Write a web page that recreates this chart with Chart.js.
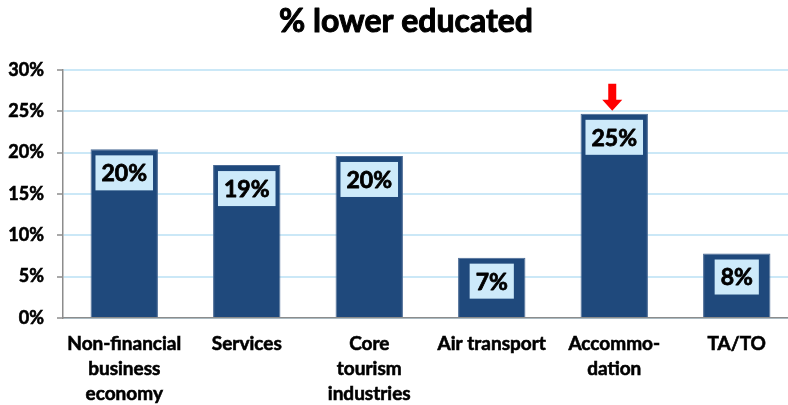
<!DOCTYPE html>
<html>
<head>
<meta charset="utf-8">
<script src="https://cdn.jsdelivr.net/npm/chart.js@4/dist/chart.umd.min.js"></script>
<style>
  html, body { margin: 0; padding: 0; background: #fff; overflow: hidden; }
  #wrap { position: relative; width: 800px; height: 405px; }
</style>
</head>
<body>
<div id="wrap"><canvas id="chart"></canvas></div>
<script>
// Share of lower educated workers by sector
const categories = [
  ['Non-financial', 'business', 'economy'],
  ['Services'],
  ['Core', 'tourism', 'industries'],
  ['Air transport'],
  ['Accommo-', 'dation'],
  ['TA/TO']
];
const lowerEducated = [20.4, 18.5, 19.6, 7.3, 24.7, 7.8];
const yTicks = [0, 5, 10, 15, 20, 25, 30];
const highlighted = 4; // Accommodation gets the red arrow
const chartTitle = '% lower educated';

const FONT = 'Lato, "DejaVu Sans", sans-serif';

// Draws bold text with a thin outline so it reads heavier
function heavyText(ctx, txt, x, y, stroke) {
  ctx.lineWidth = stroke;
  ctx.lineJoin = 'round';
  ctx.strokeStyle = '#000';
  ctx.strokeText(txt, x, y);
  ctx.fillText(txt, x, y);
}

// Light-blue value boxes inside the top of each bar
const valueBoxes = {
  id: 'valueBoxes',
  afterDatasetsDraw(chart) {
    const ctx = chart.ctx;
    const meta = chart.getDatasetMeta(0);
    ctx.save();
    ctx.font = 'bold 23px ' + FONT;
    ctx.textAlign = 'center';
    ctx.textBaseline = 'middle';
    meta.data.forEach((bar, i) => {
      const txt = Math.round(lowerEducated[i]) + '%';
      const w = ctx.measureText(txt).width + 12;
      const h = 35;
      const top = bar.y + 6;
      ctx.fillStyle = '#cdeafa';
      ctx.fillRect(bar.x - w / 2, top, w, h);
      ctx.fillStyle = '#000';
      heavyText(ctx, txt, bar.x, top + h / 2 + 1, 0.8);
    });
    ctx.restore();
  }
};

// Red down arrow above the highlighted bar
const pointerArrow = {
  id: 'pointerArrow',
  afterDatasetsDraw(chart) {
    const ctx = chart.ctx;
    const bar = chart.getDatasetMeta(0).data[highlighted];
    const x = bar.x - 2;
    const tip = bar.y - 3;
    ctx.save();
    ctx.fillStyle = '#ff0000';
    ctx.beginPath();
    ctx.moveTo(x - 4, tip - 27);
    ctx.lineTo(x + 4, tip - 27);
    ctx.lineTo(x + 4, tip - 11);
    ctx.lineTo(x + 10, tip - 11);
    ctx.lineTo(x, tip);
    ctx.lineTo(x - 10, tip - 11);
    ctx.lineTo(x - 4, tip - 11);
    ctx.closePath();
    ctx.fill();
    ctx.restore();
  }
};

// Chart heading
const heading = {
  id: 'heading',
  afterDraw(chart) {
    const ctx = chart.ctx;
    ctx.save();
    ctx.font = 'bold 32px ' + FONT;
    ctx.fillStyle = '#000';
    ctx.textAlign = 'center';
    ctx.textBaseline = 'middle';
    heavyText(ctx, chartTitle, 406, 22, 1);
    ctx.restore();
  }
};

new Chart(document.getElementById('chart'), {
  type: 'bar',
  data: {
    labels: categories,
    datasets: [{
      data: lowerEducated,
      backgroundColor: '#1f497c',
      borderColor: '#4a6a95',
      borderWidth: { top: 1, left: 1, right: 1, bottom: 0 },
      borderSkipped: 'bottom',
      categoryPercentage: 1,
      barPercentage: 0.55
    }]
  },
  options: {
    responsive: true,
    maintainAspectRatio: false,
    animation: false,
    layout: { padding: { top: 70, left: 0, right: 2, bottom: 0 } },
    plugins: {
      legend: { display: false },
      tooltip: { enabled: false },
      title: { display: false }
    },
    scales: {
      x: {
        afterFit(axis) { axis.height = 87; },
        grid: { display: false, drawTicks: false },
        border: { color: '#8c8c8c', width: 1.5 },
        ticks: {
          color: '#000',
          textStrokeColor: '#000',
          textStrokeWidth: 0.6,
          font: { family: FONT, weight: 'bold', size: 19, lineHeight: 1.3 },
          padding: 14,
          maxRotation: 0,
          autoSkip: false
        }
      },
      y: {
        min: 0,
        max: 30,
        afterBuildTicks(axis) { axis.ticks = yTicks.map(v => ({ value: v })); },
        afterFit(axis) { axis.width = 63; },
        grid: { color: '#cbe8f7', lineWidth: 2, tickLength: 6, tickColor: '#8c8c8c', tickWidth: 1.5 },
        border: { color: '#8c8c8c', width: 1.5 },
        ticks: {
          color: '#000',
          textStrokeColor: '#000',
          textStrokeWidth: 0.6,
          font: { family: FONT, weight: 'bold', size: 18 },
          padding: 13,
          callback: v => v + '%'
        }
      }
    }
  },
  plugins: [valueBoxes, pointerArrow, heading]
});
</script>
</body>
</html>
